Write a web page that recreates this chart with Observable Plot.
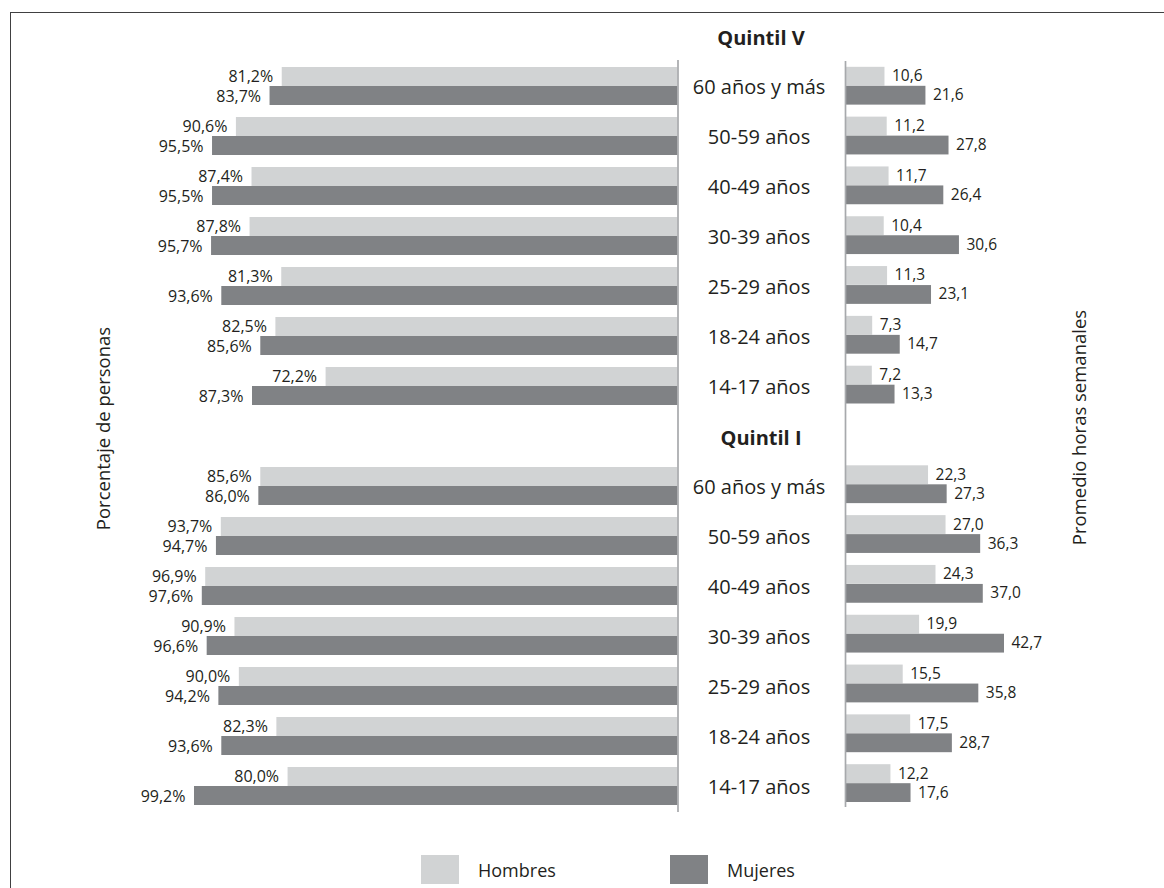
<!DOCTYPE html>
<html>
<head>
<meta charset="utf-8">
<script src="https://cdn.jsdelivr.net/npm/d3@7"></script>
<script src="https://cdn.jsdelivr.net/npm/@observablehq/plot@0.6"></script>
<style>
  body { margin: 0; background: #fff; }
  #chart { position: relative; width: 1164px; height: 888px; overflow: hidden; font-family: "Open Sans", sans-serif; color: #231f20; }
  #frame { position: absolute; left: 10px; top: 12px; right: -10px; bottom: -10px; border-top: 1.5px solid #404041; border-left: 1.5px solid #404041; }
  #chart svg { position: absolute; left: 0; top: 0; }
  .legend-item { position: absolute; top: 855px; display: flex; align-items: center; font-size: 18px; height: 29px; }
  .legend-item .sw { width: 38px; height: 29px; margin-right: 19px; }
</style>
</head>
<body>
<div id="chart"><div id="frame"></div></div>
<script>
// Age groups and income quintiles (top block: Quintil V, bottom block: Quintil I)
const quintiles = ["Quintil V", "Quintil I"];
const grupos = ["60 años y más", "50-59 años", "40-49 años", "30-39 años", "25-29 años", "18-24 años", "14-17 años"];
const sexos = ["Hombres", "Mujeres"];

// Porcentaje de personas (left panel)
const pctHombresV = [81.2, 90.6, 87.4, 87.8, 81.3, 82.5, 72.2];
const pctMujeresV = [83.7, 95.5, 95.5, 95.7, 93.6, 85.6, 87.3];
const pctHombresI = [85.6, 93.7, 96.9, 90.9, 90.0, 82.3, 80.0];
const pctMujeresI = [86.0, 94.7, 97.6, 96.6, 94.2, 93.6, 99.2];

// Promedio horas semanales (right panel)
const horasHombresV = [10.6, 11.2, 11.7, 10.4, 11.3, 7.3, 7.2];
const horasMujeresV = [21.6, 27.8, 26.4, 30.6, 23.1, 14.7, 13.3];
const horasHombresI = [22.3, 27.0, 24.3, 19.9, 15.5, 17.5, 12.2];
const horasMujeresI = [27.3, 36.3, 37.0, 42.7, 35.8, 28.7, 17.6];

const colores = {Hombres: "#d1d3d4", Mujeres: "#808285"};
const ink = "#231f20";
const axisGray = "#a7a9ac";
const font = "'Open Sans', sans-serif";

const key = (q, g) => q + "|" + g;
const yDomain = quintiles.flatMap(q => [q, ...grupos.map(g => key(q, g))]);
const filas = quintiles.flatMap(q => grupos.map(g => ({key: key(q, g), grupo: g})));

function serie(valoresV, valoresI) {
  return [
    ...grupos.map((g, i) => ({key: key("Quintil V", g), valor: valoresV[i]})),
    ...grupos.map((g, i) => ({key: key("Quintil I", g), valor: valoresI[i]}))
  ];
}
const pctH = serie(pctHombresV, pctHombresI);
const pctM = serie(pctMujeresV, pctMujeresI);
const horasH = serie(horasHombresV, horasHombresI);
const horasM = serie(horasMujeresV, horasMujeresI);

const fmt = v => v.toFixed(1).replace(".", ",");

// Left panel: percentage bars growing leftwards, plus the age labels in the middle
const left = Plot.plot({
  width: 1164,
  height: 830,
  marginTop: 11,
  marginBottom: 19,
  marginLeft: 190.1,
  marginRight: 486.5,
  x: {domain: [0, 100], reverse: true, axis: null},
  y: {domain: yDomain, range: [11, 811], padding: 0, round: false, axis: null},
  style: {fontFamily: font, background: "transparent", color: ink},
  marks: [
    Plot.barX(pctH, {x: "valor", y: "key", fill: colores.Hombres, insetTop: 6, insetBottom: 25}),
    Plot.barX(pctM, {x: "valor", y: "key", fill: colores.Mujeres, insetTop: 25, insetBottom: 6}),
    Plot.text(pctH, {x: "valor", y: "key", text: d => fmt(d.valor) + "%", textAnchor: "end", dx: -9, dy: -10, fontSize: 16, fill: ink}),
    Plot.text(pctM, {x: "valor", y: "key", text: d => fmt(d.valor) + "%", textAnchor: "end", dx: -9, dy: 10, fontSize: 16, fill: ink}),
    Plot.ruleX([0], {stroke: axisGray, strokeWidth: 1.7, insetTop: 49, insetBottom: -1}),
    Plot.text(filas, {y: "key", text: "grupo", frameAnchor: "right", textAnchor: "middle", dx: 81, dy: 1, fontSize: 20, fill: ink}),
    Plot.text(quintiles, {y: d => d, text: d => d, frameAnchor: "right", textAnchor: "middle", dx: 83, dy: 2, fontSize: 20, fontWeight: "bold", fill: ink}),
    Plot.text(["Porcentaje de personas"], {text: d => d, frameAnchor: "left", textAnchor: "middle", rotate: -90, dx: -87, dy: 17, fontSize: 18.5, fill: ink})
  ]
});

// Right panel: weekly hours bars growing rightwards
const right = Plot.plot({
  width: 1164,
  height: 830,
  marginTop: 11,
  marginBottom: 22,
  marginLeft: 845,
  marginRight: 21.1,
  x: {domain: [0, 80], axis: null},
  y: {domain: yDomain, range: [11, 808], padding: 0, round: false, axis: null},
  style: {fontFamily: font, background: "transparent", color: ink},
  marks: [
    Plot.barX(horasH, {x: "valor", y: "key", fill: colores.Hombres, insetTop: 6, insetBottom: 25}),
    Plot.barX(horasM, {x: "valor", y: "key", fill: colores.Mujeres, insetTop: 25, insetBottom: 6}),
    Plot.text(horasH, {x: "valor", y: "key", text: d => fmt(d.valor), textAnchor: "start", dx: 7, dy: -10, fontSize: 15.5, fill: ink}),
    Plot.text(horasM, {x: "valor", y: "key", text: d => fmt(d.valor), textAnchor: "start", dx: 7, dy: 9, fontSize: 15.5, fill: ink}),
    Plot.ruleX([0], {stroke: axisGray, strokeWidth: 1.7, insetTop: 50, insetBottom: 1}),
    Plot.text(["Promedio horas semanales"], {text: d => d, frameAnchor: "right", textAnchor: "middle", rotate: -90, dx: -63, dy: 17.5, fontSize: 18.5, fill: ink})
  ]
});

const chart = document.getElementById("chart");
chart.appendChild(left);
chart.appendChild(right);

// Legend below the panels
const legendLeft = [421, 670];
sexos.forEach((s, i) => {
  const item = document.createElement("div");
  item.className = "legend-item";
  item.style.left = legendLeft[i] + "px";
  const sw = document.createElement("span");
  sw.className = "sw";
  sw.style.background = colores[s];
  const label = document.createElement("span");
  label.textContent = s;
  item.appendChild(sw);
  item.appendChild(label);
  chart.appendChild(item);
});
</script>
</body>
</html>
